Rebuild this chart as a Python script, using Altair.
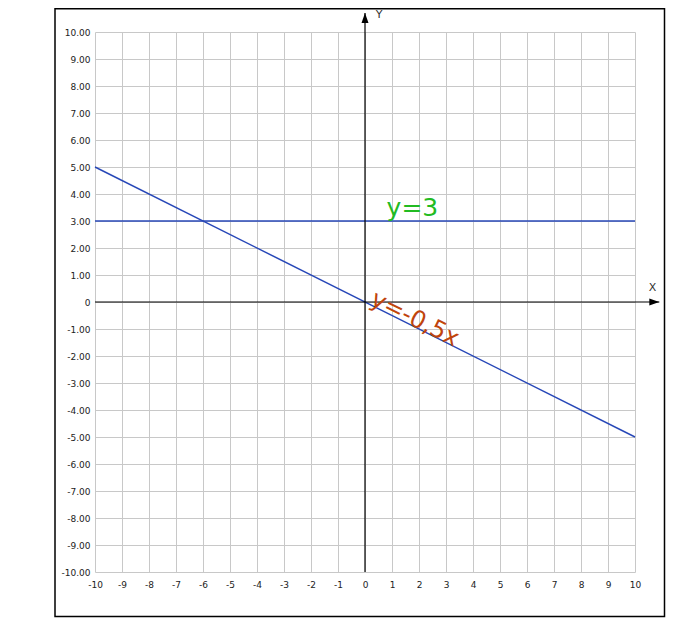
import altair as alt
import pandas as pd

# ---- data ----
ticks = list(range(-10, 11))

line_series = ["y=3", "y=3", "y=-0,5x", "y=-0,5x"]
line_x = [-10, 10, -10, 10]
line_y = [3, 3, 5, -5]

# coordinate axes (ends) and arrow heads
xaxis_x = [-10, 10.9]
xaxis_y = [0, 0]
yaxis_x = [0, 0]
yaxis_y = [-10, 10.7]

eq_labels = ["y=3", "y=-0,5x"]
eq_x = [0.8, 0.15]
eq_y = [3.18, -0.08]
eq_angle = [0, 26.57]
eq_color = ["#22bb22", "#c0440c"]

axis_names = ["X", "Y"]
axis_name_x = [10.65, 0.52]
axis_name_y = [0.52, 10.63]

# ---- chart ----
xs = alt.Scale(domain=[-10, 10], nice=False, zero=False)
ys = alt.Scale(domain=[-10, 10], nice=False, zero=False)

common_axis = dict(values=ticks, grid=True, gridColor="#c8c8c8", gridWidth=1,
                   domain=False, ticks=False, title=None, labelFont="DejaVu Sans",
                   labelFontSize=9, labelColor="#222222", labelFlush=False,
                   labelOverlap=False)
x_axis = alt.Axis(labelPadding=8, labelExpr="'' + datum.value", **common_axis)
y_axis = alt.Axis(labelPadding=5,
                  labelExpr="datum.value == 0 ? '0' : (datum.value < 0 ? '-' : '') + format(abs(datum.value), '.2f')",
                  **common_axis)

def X():
    return alt.X("x:Q", scale=xs, axis=x_axis)

def Y():
    return alt.Y("y:Q", scale=ys, axis=y_axis)

lines_df = pd.DataFrame({"s": line_series, "x": line_x, "y": line_y})
lines = alt.Chart(lines_df).mark_line(color="#2848b8", strokeWidth=1.5, clip=False).encode(
    x=X(), y=Y(), detail="s:N")

xa = alt.Chart(pd.DataFrame({"x": xaxis_x, "y": xaxis_y})).mark_line(
    color="black", strokeWidth=1.2, clip=False).encode(x=X(), y=Y())
ya = alt.Chart(pd.DataFrame({"x": yaxis_x, "y": yaxis_y})).mark_line(
    color="black", strokeWidth=1.2, clip=False).encode(x=X(), y=Y())

arrow_r = alt.Chart(pd.DataFrame({"x": [xaxis_x[1]], "y": [0]})).mark_point(
    shape="M-2,-0.7L0,0L-2,0.7Z", filled=True, color="black", opacity=1, size=100,
    clip=False).encode(x=X(), y=Y())
arrow_u = alt.Chart(pd.DataFrame({"x": [0], "y": [yaxis_y[1]]})).mark_point(
    shape="M-0.7,2L0,0L0.7,2Z", filled=True, color="black", opacity=1, size=100,
    clip=False).encode(x=X(), y=Y())

eq_df = pd.DataFrame({"t": eq_labels, "x": eq_x, "y": eq_y, "a": eq_angle, "c": eq_color})
eq1 = alt.Chart(eq_df.iloc[[0]]).mark_text(
    align="left", baseline="alphabetic", font="DejaVu Sans", fontSize=25,
    color=eq_color[0], clip=False).encode(x=X(), y=Y(), text="t:N")
eq2 = alt.Chart(eq_df.iloc[[1]]).mark_text(
    align="left", baseline="alphabetic", font="DejaVu Sans", fontSize=24,
    angle=eq_angle[1], color=eq_color[1], clip=False).encode(x=X(), y=Y(), text="t:N")

names = alt.Chart(pd.DataFrame({"t": axis_names, "x": axis_name_x, "y": axis_name_y})).mark_text(
    align="center", baseline="middle", font="DejaVu Sans", fontSize=11,
    color="#333333", clip=False).encode(x=X(), y=Y(), text="t:N")

frame = alt.Chart(pd.DataFrame({"x": [0], "y": [0]})).mark_rect(
    fill=None, fillOpacity=0, stroke="black", strokeWidth=1.5, clip=False).encode(
    x=alt.value(-40), x2=alt.value(569.5), y=alt.value(-23.2), y2=alt.value(584.5))

chart = alt.layer(lines, xa, ya, arrow_r, arrow_u, eq1, eq2, names, frame).properties(
    width=540, height=540,
    autosize=alt.AutoSizeParams(type="none"),
    padding={"left": 87, "top": 24, "right": 34, "bottom": 48},
).configure_view(stroke=None)

chart.save("out.html", embed_options={"renderer": "svg", "actions": False})
